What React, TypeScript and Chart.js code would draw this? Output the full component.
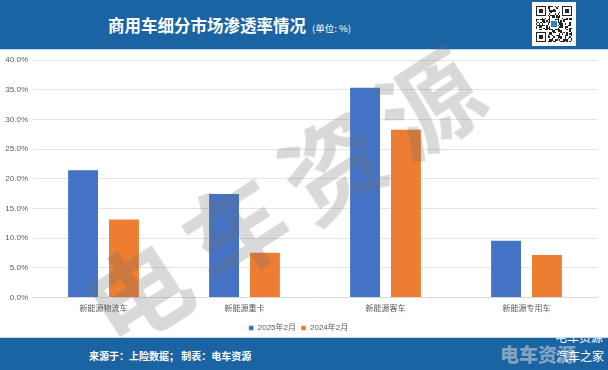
import React, { useEffect, useRef } from "react";
import { Chart, registerables } from "chart.js";

Chart.register(...registerables);

const categories = ["新能源物流车", "新能源重卡", "新能源客车", "新能源专用车"];
const series2025 = [21.6, 17.6, 35.5, 9.7];
const series2024 = [13.3, 7.7, 28.4, 7.3];
const seriesNames = ["2025年2月", "2024年2月"];
const yTicks = [0, 5, 10, 15, 20, 25, 30, 35, 40];

const FONT = "'Liberation Sans', 'Noto Sans CJK SC', sans-serif";
const CJK = "'Noto Sans CJK SC', 'Liberation Sans', sans-serif";

function QR() {
  const n = 25;
  const cells: JSX.Element[] = [];
  const inFinder = (r: number, c: number) =>
    (r < 8 && c < 8) || (r < 8 && c >= n - 8) || (r >= n - 8 && c < 8);
  for (let r = 0; r < n; r++) {
    for (let c = 0; c < n; c++) {
      if (inFinder(r, c)) continue;
      const h = ((r * 73 + c * 151 + r * c * 17) ^ (r * 5 + c * 11)) % 7;
      if (h < 3) cells.push(<rect key={r + "-" + c} x={c} y={r} width={1} height={1} fill="#222" />);
    }
  }
  const finder = (x: number, y: number) => (
    <g key={"f" + x + y}>
      <rect x={x} y={y} width={7} height={7} fill="#222" />
      <rect x={x + 1} y={y + 1} width={5} height={5} fill="#fff" />
      <rect x={x + 2} y={y + 2} width={3} height={3} fill="#222" />
    </g>
  );
  return (
    <svg width={36} height={36} viewBox="0 0 25 25" shapeRendering="crispEdges">
      <rect width={25} height={25} fill="#fff" />
      {cells}
      {finder(0, 0)}
      {finder(n - 7, 0)}
      {finder(0, n - 7)}
      <rect x={10} y={10} width={5} height={5} fill="#fff" />
      <rect x={10.5} y={10.5} width={4} height={4} fill="#2f7fc1" />
    </svg>
  );
}

export default function App() {
  const ref = useRef<HTMLCanvasElement>(null);
  useEffect(() => {
    if (!ref.current) return;
    const chart = new Chart(ref.current, {
      type: "bar",
      data: {
        labels: categories,
        datasets: [
          {
            label: seriesNames[0],
            data: series2025,
            backgroundColor: "#4472c4",
            borderColor: "rgba(255,255,255,0.45)",
            borderWidth: 1,
            categoryPercentage: 0.58,
            barPercentage: 0.78,
          },
          {
            label: seriesNames[1],
            data: series2024,
            backgroundColor: "#ed7d31",
            borderColor: "rgba(255,255,255,0.45)",
            borderWidth: 1,
            categoryPercentage: 0.58,
            barPercentage: 0.78,
          },
        ],
      },
      options: {
        animation: false,
        responsive: false,
        maintainAspectRatio: false,
        layout: { padding: { left: 0, right: 11, top: 10, bottom: 0 } },
        plugins: {
          legend: {
            position: "bottom",
            labels: {
              boxWidth: 5,
              boxHeight: 5,
              padding: 5,
              color: "#595959",
              font: { size: 8, family: FONT },
            },
          },
          tooltip: { enabled: false },
        },
        scales: {
          x: {
            grid: { display: false, drawTicks: false },
            border: { color: "#d9d9d9" },
            ticks: { color: "#595959", font: { size: 8, family: CJK }, padding: 6 },
          },
          y: {
            min: 0,
            max: 40,
            afterBuildTicks: (s: any) => {
              s.ticks = yTicks.map((v) => ({ value: v }));
            },
            afterFit: (s: any) => {
              s.width = 33;
            },
            grid: { color: "#e3e3e3", drawTicks: false },
            border: { display: false },
            ticks: {
              color: "#595959",
              font: { size: 8, family: FONT },
              padding: 5,
              callback: (v: any) => Number(v).toFixed(1) + "%",
            },
          },
        },
      },
    });
    return () => chart.destroy();
  }, []);

  return (
    <div
      style={{
        position: "absolute",
        left: 0,
        top: 0,
        width: 608,
        height: 370,
        overflow: "hidden",
        background: "#fff",
        fontFamily: CJK,
      }}
    >
      {/* header */}
      <div style={{ position: "absolute", left: 0, top: 0, width: 608, height: 49, background: "#1a64a3" }} />
      <div
        style={{
          position: "absolute",
          left: 108,
          top: 13,
          color: "#fff",
          whiteSpace: "nowrap",
          lineHeight: "24px",
        }}
      >
        <span style={{ fontSize: 16.5, fontWeight: 700 }}>商用车细分市场渗透率情况</span>
        <span style={{ fontSize: 9.5, marginLeft: 6 }}>(单位: %)</span>
      </div>
      <div
        style={{
          position: "absolute",
          left: 532,
          top: 2,
          width: 44,
          height: 44,
          background: "#fff",
          display: "flex",
          alignItems: "center",
          justifyContent: "center",
        }}
      >
        <QR />
      </div>

      {/* footer */}
      <div style={{ position: "absolute", left: 0, top: 338, width: 608, height: 32, background: "#1a64a3" }} />
      <div
        style={{
          position: "absolute",
          left: 555,
          top: 330,
          fontSize: 12,
          color: "#fff",
          whiteSpace: "nowrap",
          lineHeight: "14px",
        }}
      >
        电车资源
      </div>
      <div
        style={{
          position: "absolute",
          left: 500,
          top: 342,
          fontSize: 19,
          fontWeight: 900,
          color: "rgba(200,205,212,0.6)",
          whiteSpace: "nowrap",
          lineHeight: "24px",
        }}
      >
        电车资源
      </div>
      <div
        style={{
          position: "absolute",
          left: 556,
          top: 349,
          fontSize: 12,
          color: "#fff",
          whiteSpace: "nowrap",
          lineHeight: "14px",
        }}
      >
        汽车之家
      </div>
      <div
        style={{
          position: "absolute",
          left: 89,
          top: 349,
          fontSize: 10,
          fontWeight: 700,
          color: "#fff",
          whiteSpace: "nowrap",
          lineHeight: "14px",
        }}
      >
        来源于：上险数据； 制表：电车资源
      </div>

      {/* white chart box */}
      <div
        style={{
          position: "absolute",
          left: 0,
          top: 49,
          width: 608,
          height: 289,
          background: "#fff",
          borderTop: "1px solid #c9d6e6",
          borderBottom: "1px solid #c9d6e6",
          boxSizing: "border-box",
        }}
      />
      <canvas
        ref={ref}
        width={608}
        height={292}
        style={{ position: "absolute", left: 0, top: 50, width: 608, height: 292 }}
      />

      {/* watermark */}
      <div
        style={{
          position: "absolute",
          left: 288,
          top: 190,
          transform: "translate(-50%, -50%) rotate(-33deg)",
          fontSize: 100,
          fontWeight: 700,
          letterSpacing: 16,
          color: "rgba(110,110,110,0.26)",
          whiteSpace: "nowrap",
          lineHeight: "110px",
          pointerEvents: "none",
        }}
      >
        电车资源
      </div>
    </div>
  );
}
